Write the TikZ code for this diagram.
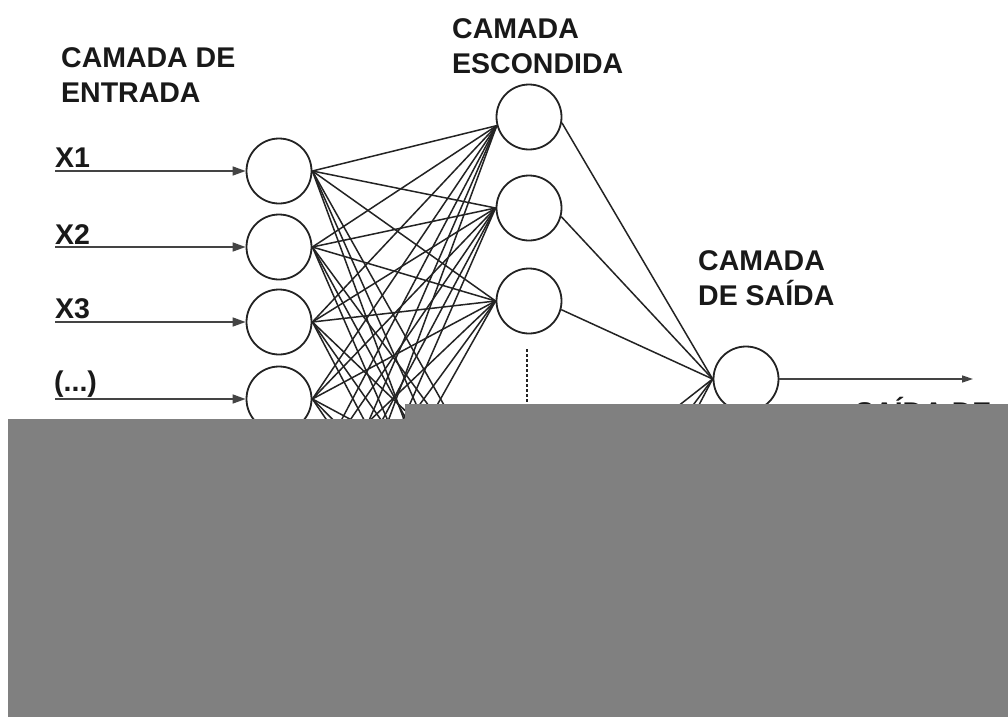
\documentclass[tikz,border=0pt]{standalone}
\usepackage{fontspec}
\setmainfont{Liberation Sans}
\usetikzlibrary{arrows.meta}
\definecolor{ink}{RGB}{35,35,35}
\definecolor{redact}{RGB}{128,128,128}
\begin{document}
\begin{tikzpicture}[x=1pt,y=-1pt,
  neuron/.style={circle,draw=ink,line width=1.8pt,minimum size=65pt,inner sep=0pt},
  link/.style={draw=ink,line width=1.5pt},
  inarrow/.style={draw=ink!85,line width=1.6pt,-{Triangle[length=13pt,width=9pt]}},
  outarrow/.style={draw=ink!85,line width=1.6pt,-{Triangle[length=11pt,width=7pt]}},
  lbl/.style={font=\fontsize{28.5}{35}\selectfont\bfseries,anchor=base west,inner sep=0pt,text=black!90},
  dotline/.style={draw=ink,line width=1.6pt,dash pattern=on 2.5pt off 2.5pt}]
\useasboundingbox (0,0) rectangle (1008,717);
\fill[white] (0,0) rectangle (1008,717);
% input layer
\foreach \i/\y in {1/171,2/247,3/322,4/399,5/475,6/551,7/627}{
  \node[neuron] (i\i) at (279,\y) {};
  \coordinate (s\i) at (55,\y);
}
% hidden layer
\foreach \j/\y in {1/117,2/208,3/301,4/500,5/590,6/680}{
  \node[neuron] (h\j) at (529,\y) {};
}
% output
\node[neuron] (o) at (746,379) {};
% input arrows
\foreach \i in {1,...,7}{\draw[inarrow] (s\i) -- (i\i.west);}
% input-hidden links
\foreach \i in {1,...,7}{
  \foreach \j/\a in {1/195,2/180,3/180,4/175,5/170,6/165}{
    \draw[link] (i\i.east) -- (h\j.\a);
  }
}
% hidden-output links
\foreach \j/\a in {1/-10,2/-15,3/-15,4/5,5/15,6/20}{
  \draw[link] (h\j.\a) -- (o.west);
}
% output arrow
\coordinate (oe) at (973,379);
\draw[outarrow] (o.east) -- (oe);
% dotted line
\coordinate (d1) at (527,349);
\coordinate (d2) at (527,462);
\draw[dotline] (d1) -- (d2);
% labels
\node[lbl] (t1) at (61,67) {CAMADA DE};
\node[lbl] (t2) at (61,102) {ENTRADA};
\node[lbl] (t3) at (452,39) {CAMADA};
\node[lbl] (t4) at (452,74) {ESCONDIDA};
\node[lbl] (t5) at (698,270) {CAMADA};
\node[lbl] (t6) at (698,305) {DE SAÍDA};
\node[lbl] (x1) at (55,167) {X1};
\node[lbl] (x2) at (55,244) {X2};
\node[lbl] (x3) at (55,318) {X3};
\node[lbl] (x4) at (54,391) {(...)};
\node[lbl] (t7) at (855,422) {SAÍDA DE};
% redaction
\fill[redact] (8,419) rectangle (1008,717);
\fill[redact] (405,404) rectangle (1008,419);
\end{tikzpicture}
\end{document}
